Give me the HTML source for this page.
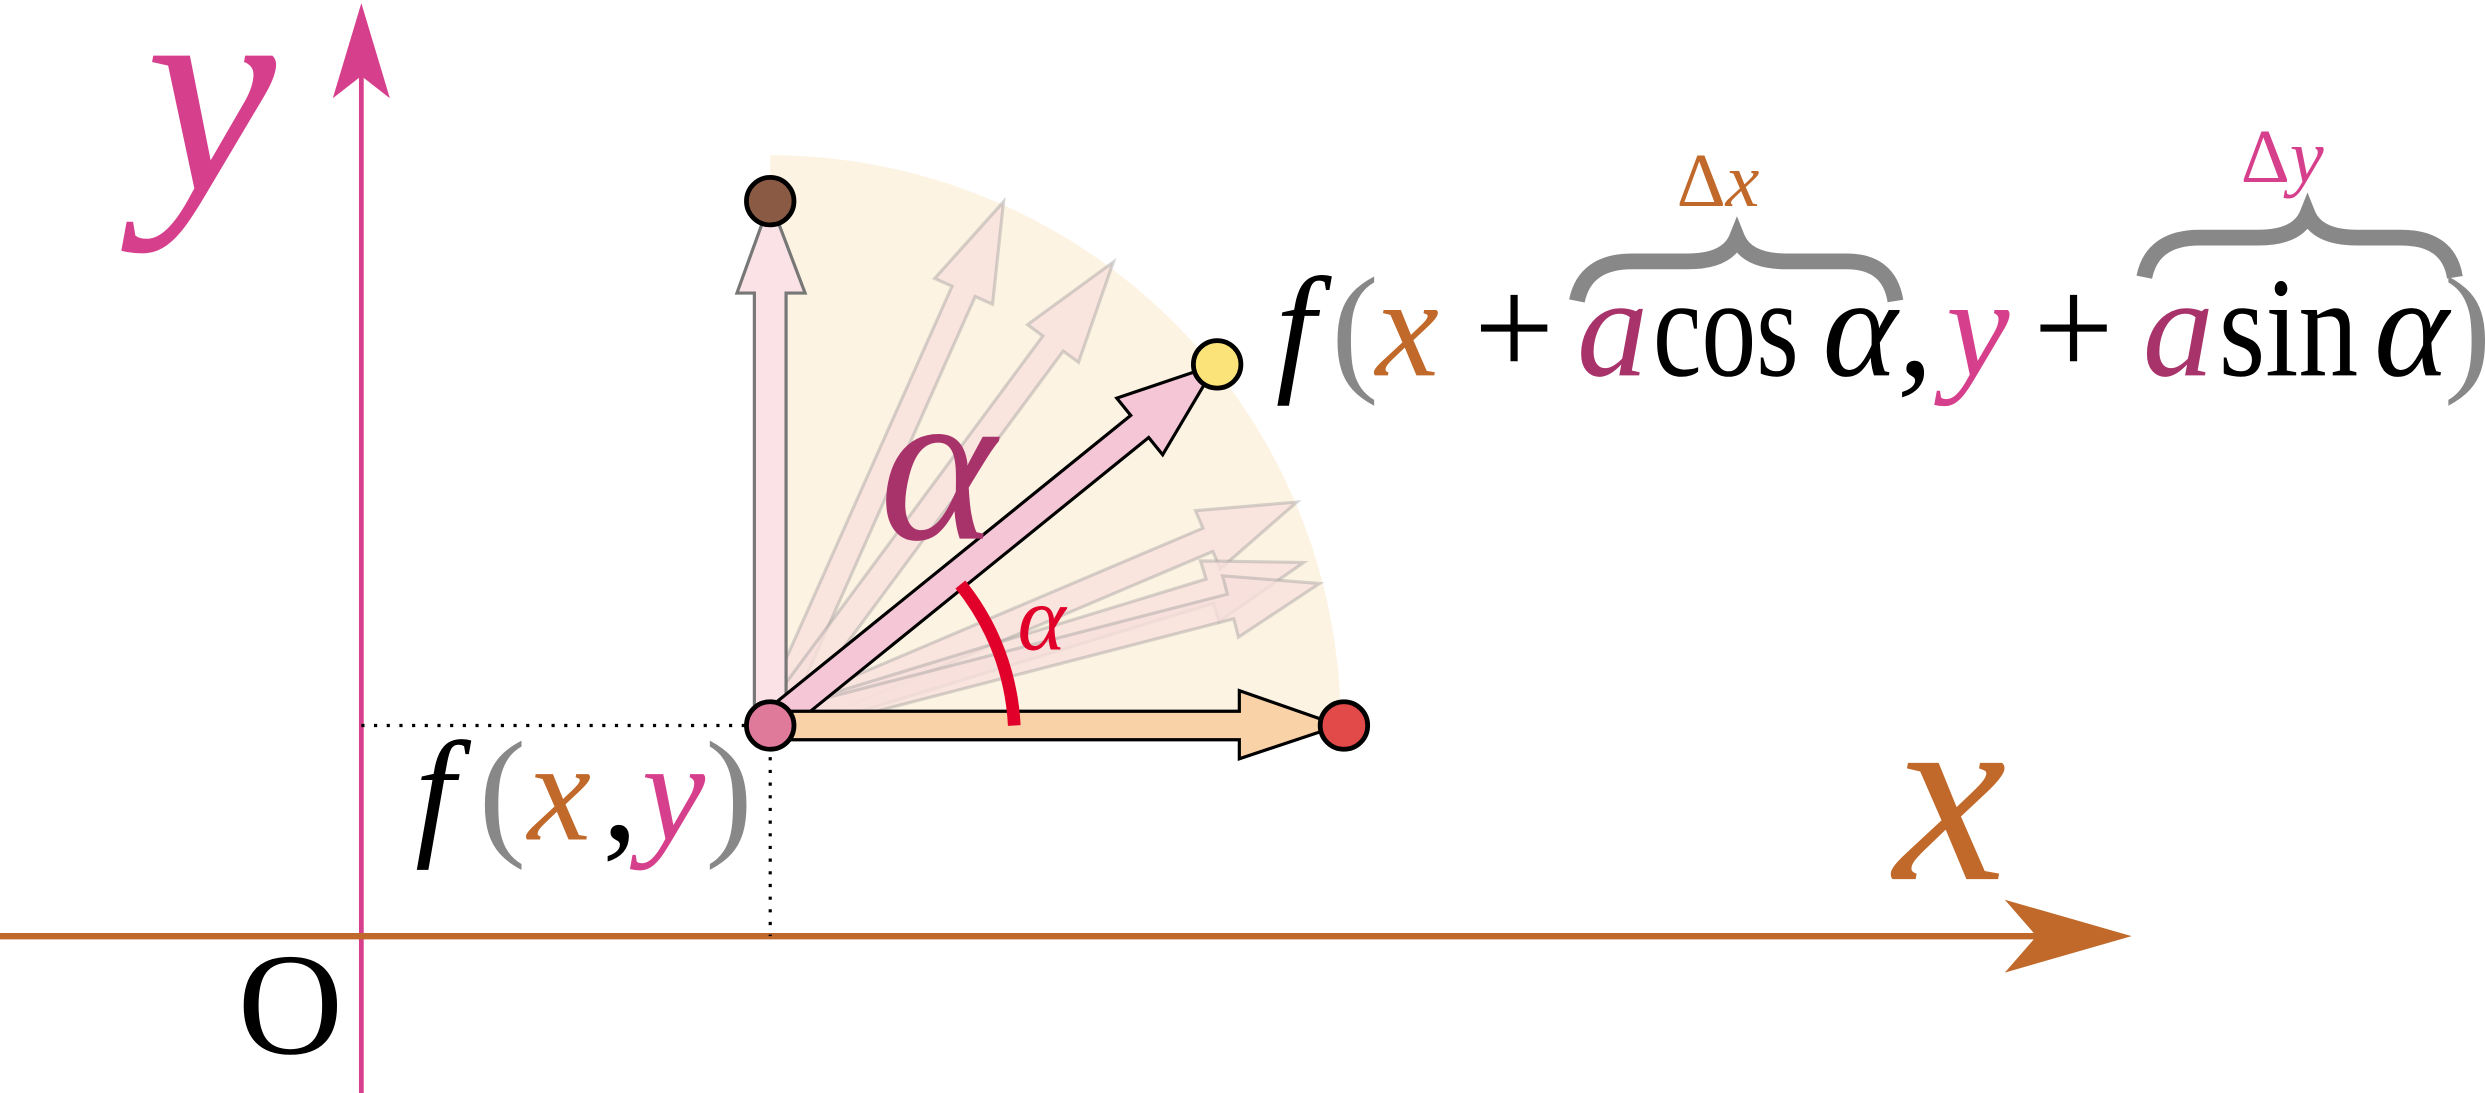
<!DOCTYPE html>
<html><head><meta charset="utf-8"><style>
html,body{margin:0;padding:0;background:#fff;overflow:hidden}
svg{display:block}
.m{font-family:"Liberation Serif",serif;font-style:italic}
.r{font-family:"Liberation Serif",serif}
</style></head><body>
<svg width="2485" height="1093" viewBox="0 0 1568 690" preserveAspectRatio="none" xmlns="http://www.w3.org/2000/svg">
<!-- sector -->
<path d="M486,458 L486,98 A360,360 0 0 1 846,458 Z" fill="#fdf3e3"/>
<!-- axes -->
<line x1="228" y1="40" x2="228" y2="690" stroke="#d63f8c" stroke-width="3"/>
<polygon points="228,2 246,62 228,48 210,62" fill="#d63f8c"/>
<line x1="0" y1="591" x2="1300" y2="591" stroke="#c0692a" stroke-width="4"/>
<polygon points="1345,591 1265,614 1285,591 1265,568" fill="#c0692a"/>
<!-- dotted -->
<line x1="228" y1="458" x2="470" y2="458" stroke="#000" stroke-width="2" stroke-dasharray="2,6"/>
<line x1="486" y1="470" x2="486" y2="591" stroke="#000" stroke-width="2" stroke-dasharray="2,6"/>
<!-- faded arrows -->
<g fill="#f8e0dc" fill-opacity="0.8" stroke="#999" stroke-opacity="0.4" stroke-width="2">
<g transform="translate(486,458) rotate(-66)"><polygon points="0,-8 300,-8 300,-20 362,0 300,20 300,8 0,8"/></g>
<g transform="translate(486,458) rotate(-53.5)"><polygon points="0,-8 300,-8 300,-20 364,0 300,20 300,8 0,8"/></g>
<g transform="translate(486,458) rotate(-23)"><polygon points="0,-8 300,-8 300,-20 361,0 300,20 300,8 0,8"/></g>
<g transform="translate(486,458) rotate(-17)"><polygon points="0,-8 290,-8 290,-20 352,0 290,20 290,8 0,8"/></g>
<g transform="translate(486,458) rotate(-14.5)"><polygon points="0,-8 300,-8 300,-20 358,0 300,20 300,8 0,8"/></g>
</g>
<!-- vertical arrow -->
<polygon points="476,458 476,185 465,185 486,127 508,185 496,185 496,458" fill="#fbe2e6" stroke="#777" stroke-width="2"/>
<!-- main arrow -->
<g transform="translate(486,458) rotate(-39)"><polygon points="0,-9 300,-9 300,-23 362,0 300,23 300,9 0,9" fill="#f5c6d5" stroke="#000" stroke-width="2"/></g>
<!-- horizontal arrow -->
<polygon points="486,449 782,449 782,436 845,458 782,479 782,467 486,467" fill="#f9d2a8" stroke="#000" stroke-width="2"/>
<!-- red arc -->
<path d="M640,458 A154,154 0 0 0 606,369" fill="none" stroke="#e0002a" stroke-width="8"/>
<!-- circles -->
<circle cx="486" cy="458" r="15" fill="#e07a9a" stroke="#000" stroke-width="3"/>
<circle cx="486" cy="127" r="15" fill="#8b5a45" stroke="#000" stroke-width="3"/>
<circle cx="768" cy="230" r="15" fill="#fbe37a" stroke="#000" stroke-width="3"/>
<circle cx="848" cy="458" r="15" fill="#e24a4a" stroke="#000" stroke-width="3"/>
<!-- labels -->
<text class="m" x="92" y="120" font-size="185" fill="#d63f8c">y</text>
<text class="m" x="1195" y="555" font-size="160" fill="#c0692a">x</text>
<text class="r" x="150" y="665" font-size="92" fill="#000">O</text>
<text class="m" x="555" y="340" font-size="140" fill="#a8336a">α</text>
<text class="m" x="642" y="410" font-size="58" fill="#e0002a">α</text>
<g font-size="90">
<text class="m" x="262" y="530" fill="#000">f</text>
<text class="r" x="302" y="530" fill="#888">(</text>
<text class="m" x="333" y="530" fill="#c0692a">x</text>
<text class="r" x="380" y="530" fill="#000">,</text>
<text class="m" x="405" y="530" fill="#d63f8c">y</text>
<text class="r" x="445" y="530" fill="#888">)</text>
</g>
<g font-size="90">
<text class="m" x="805" y="237" fill="#000">f</text>
<text class="r" x="840" y="237" fill="#888">(</text>
<text class="m" x="868" y="237" fill="#c0692a">x</text>
<text class="r" x="930" y="237" fill="#000">+</text>
<text class="m" x="995" y="237" fill="#a8336a">a</text>
<text class="r" x="1043" y="237" fill="#000" textLength="92" lengthAdjust="spacingAndGlyphs">cos</text>
<text class="m" x="1150" y="237" fill="#000">α,</text>
<text class="m" x="1228" y="237" fill="#d63f8c">y</text>
<text class="r" x="1283" y="237" fill="#000">+</text>
<text class="m" x="1352" y="237" fill="#a8336a">a</text>
<text class="r" x="1400" y="237" fill="#000" textLength="88" lengthAdjust="spacingAndGlyphs">sin</text>
<text class="m" x="1498" y="237" fill="#000">α</text>
<text class="r" x="1542" y="237" fill="#888">)</text>
</g>
<!-- braces -->
<path d="M995,190 Q1000,165 1030,165 L1065,165 Q1090,165 1096,150 Q1102,165 1127,165 L1165,165 Q1192,165 1196,190" fill="none" stroke="#888" stroke-width="10"/>
<path d="M1353,175 Q1358,150 1388,150 L1425,150 Q1450,150 1456,135 Q1462,150 1487,150 L1515,150 Q1545,150 1549,175" fill="none" stroke="#888" stroke-width="10"/>
<text class="r" x="1058" y="130" font-size="48" fill="#c0692a">Δ<tspan class="m">x</tspan></text>
<text class="r" x="1414" y="115" font-size="48" fill="#d63f8c">Δ<tspan class="m">y</tspan></text>
</svg>
</body></html>
